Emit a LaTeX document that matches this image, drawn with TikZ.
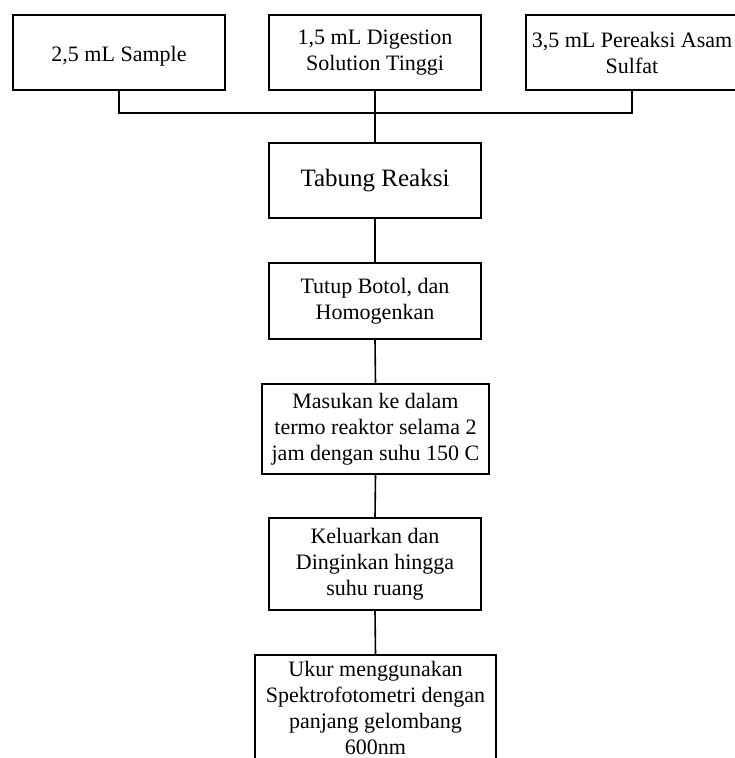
\documentclass[tikz,border=0pt]{standalone}
\usepackage{fontspec}
\setmainfont{Liberation Serif}
\usepackage{tikz}
\usetikzlibrary{positioning,calc}
\tikzset{stepbox/.style={draw=black,line width=1.6pt,align=center,inner sep=3pt,font=\fontsize{22}{26}\selectfont}, link/.style={draw=black,line width=1.6pt}}

\begin{document}
\begin{tikzpicture}[x=1pt,y=-1pt]
\useasboundingbox (0,0) rectangle (735,758);
\clip (0,0) rectangle (735,758);
\coordinate (junc) at (375,113);
\node[stepbox,minimum width=212pt,minimum height=75pt,text height=23pt] (sampel) at (119,52.5) {2,5 mL Sample};
\node[stepbox,minimum width=212pt,minimum height=75pt] (digest) at (375,52.5) {1,5 mL Digestion\\Solution Tinggi};
\node[stepbox,minimum width=212pt,minimum height=75pt] (asam) at (632,52.5) {3,5 mL Pereaksi Asam\\Sulfat};
\node[stepbox,minimum width=212pt,minimum height=75pt,font=\fontsize{25}{29}\selectfont] (tabung) at (375,180.5) {Tabung Reaksi};
\node[stepbox,minimum width=212pt,minimum height=76pt] (tutup) at (375,301) {Tutup Botol, dan\\Homogenkan};
\node[stepbox,minimum width=227pt,minimum height=90pt] (masuk) at (375.5,429) {Masukan ke dalam\\termo reaktor selama 2\\jam dengan suhu 150 C};
\node[stepbox,minimum width=212pt,minimum height=92pt] (keluar) at (375,564) {Keluarkan dan\\Dinginkan hingga\\suhu ruang};
\node[stepbox,minimum width=241pt,minimum height=106pt] (ukur) at (375.5,708) {Ukur menggunakan\\Spektrofotometri dengan\\panjang gelombang\\600nm};
\draw[link] (sampel.south) |- (junc) -| (asam.south);
\draw[link] (digest.south) -- (tabung.north);
\draw[link] (tabung.south) -- (tutup.north);
\draw[link] (tutup.south) -- (masuk.north);
\draw[link] (masuk.south) -- (keluar.north);
\draw[link] (keluar.south) -- (ukur.north);
\end{tikzpicture}
\end{document}
